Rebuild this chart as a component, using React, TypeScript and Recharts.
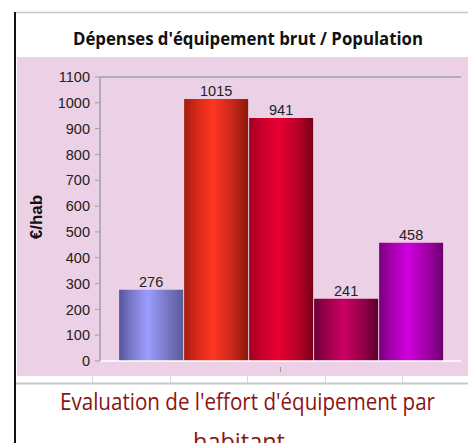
import React from 'react';
import { BarChart, Bar, XAxis, YAxis, LabelList, ReferenceLine } from 'recharts';

const title = "Dépenses d'équipement brut / Population";
const caption1 = "Evaluation de l'effort d'équipement par";
const caption2 = 'habitant';
const yLabel = '€/hab';
const category = [''];
const seriesKeys = ['s1', 's2', 's3', 's4', 's5'];
const seriesValues = [276, 1015, 941, 241, 458];
const yTicks = [0, 100, 200, 300, 400, 500, 600, 700, 800, 900, 1000, 1100];

const gradients: string[][] = [
  ['#55559a', '#7b7bcc', '#9c9cff', '#7878c4', '#5a5a98'],
  ['#a41c10', '#d62818', '#ff3520', '#c8281a', '#8a1a0c'],
  ['#a20022', '#c8002a', '#ea0033', '#b80028', '#7a0018'],
  ['#6c0038', '#9c004c', '#cc0062', '#98004a', '#5c002e'],
  ['#76007a', '#a800b0', '#cf00de', '#a000a8', '#6c006c'],
];

const data = category.map((c) => {
  const row: Record<string, string | number> = { cat: c };
  seriesKeys.forEach((k, i) => {
    row[k] = seriesValues[i];
  });
  return row;
});

const XTick = (props: any) => {
  const { x, y } = props;
  return <line x1={x} x2={x} y1={y - 2} y2={y + 3} stroke="#999" strokeWidth={1} />;
};

const YLab = (props: any) => {
  const vb = props.viewBox || {};
  const cx = vb.x - 4;
  const cy = vb.y + vb.height / 2 - 2;
  return (
    <text
      x={cx}
      y={cy}
      transform={`rotate(-90 ${cx} ${cy})`}
      textAnchor="middle"
      dominantBaseline="central"
      fontFamily="'Liberation Sans', Arial, sans-serif"
      fontWeight="bold"
      fontSize={17}
      fill="#111"
    >
      {yLabel}
    </text>
  );
};

const fontArial = "'Liberation Sans', Arial, sans-serif";

export default function App() {
  return (
    <div style={{ position: 'absolute', left: 0, top: 0, width: 468, height: 443, background: '#fff', overflow: 'hidden' }}>
      <svg width={468} height={443} style={{ position: 'absolute', left: 0, top: 0 }}>
        <rect x={14} y={12} width={2} height={431} fill="#111" />
        <line x1={16} x2={468} y1={12.5} y2={12.5} stroke="#c8c8c8" strokeWidth={1.5} />
        <rect x={17} y={57} width={451} height={319} fill="#ecd0e6" />
        {[92, 170, 247, 325, 402].map((x) => (
          <line key={x} x1={x + 0.5} x2={x + 0.5} y1={376} y2={383} stroke="#d6d6d6" strokeWidth={1} />
        ))}
        <line x1={16} x2={468} y1={383.5} y2={383.5} stroke="#c8c8c8" strokeWidth={2} />
        <text
          x={248}
          y={44.7}
          textAnchor="middle"
          fontFamily="'Open Sans', sans-serif"
          fontWeight="bold"
          fontSize={18.5}
          textLength={350}
          lengthAdjust="spacingAndGlyphs"
          fill="#111"
        >
          {title}
        </text>
        <text
          x={247.5}
          y={410}
          textAnchor="middle"
          fontFamily="'Open Sans', sans-serif"
          fontSize={24}
          textLength={375}
          lengthAdjust="spacingAndGlyphs"
          fill="#8b1414"
        >
          {caption1}
        </text>
        <text
          x={239}
          y={450}
          textAnchor="middle"
          fontFamily="'Open Sans', sans-serif"
          fontSize={24}
          textLength={92}
          lengthAdjust="spacingAndGlyphs"
          fill="#8b1414"
        >
          {caption2}
        </text>
      </svg>
      <div style={{ position: 'absolute', left: 17, top: 57 }}>
        <BarChart
          width={451}
          height={319}
          data={data}
          margin={{ top: 20, right: 7, bottom: 0, left: 23 }}
          barCategoryGap="5.3%"
          barGap={1}
        >
          <defs>
            {gradients.map((g, i) => (
              <linearGradient key={i} id={`grad${i}`} x1="0" y1="0" x2="1" y2="0">
                <stop offset="0%" stopColor={g[0]} />
                <stop offset="20%" stopColor={g[1]} />
                <stop offset="45%" stopColor={g[2]} />
                <stop offset="75%" stopColor={g[3]} />
                <stop offset="100%" stopColor={g[4]} />
              </linearGradient>
            ))}
          </defs>
          <XAxis
            dataKey="cat"
            yAxisId="l"
            height={15}
            axisLine={{ stroke: '#ffffff', strokeWidth: 1.5 }}
            tickLine={false}
            tick={<XTick />}
          />
          <YAxis
            yAxisId="l"
            width={60}
            domain={[0, 1100]}
            ticks={yTicks}
            interval={0}
            tickSize={5}
            tickMargin={5}
            axisLine={{ stroke: '#a0a0a0', strokeWidth: 1.5 }}
            tickLine={{ stroke: '#a0a0a0' }}
            tick={{ fontSize: 14.5, fill: '#222', fontFamily: fontArial }}
            label={<YLab />}
          />
          <YAxis
            yAxisId="r"
            orientation="right"
            width={0}
            domain={[0, 1100]}
            tick={false}
            tickLine={false}
            axisLine={{ stroke: '#ffffff', strokeWidth: 1.5 }}
          />
          <ReferenceLine yAxisId="l" y={1100} stroke="#a0a0a0" strokeWidth={1.5} />
          {seriesKeys.map((k, i) => (
            <Bar key={k} dataKey={k} yAxisId="l" fill={`url(#grad${i})`} isAnimationActive={false}>
              <LabelList
                dataKey={k}
                position="top"
                offset={3}
                fill="#222"
                fontSize={14.5}
                fontFamily={fontArial}
              />
            </Bar>
          ))}
        </BarChart>
      </div>
    </div>
  );
}
